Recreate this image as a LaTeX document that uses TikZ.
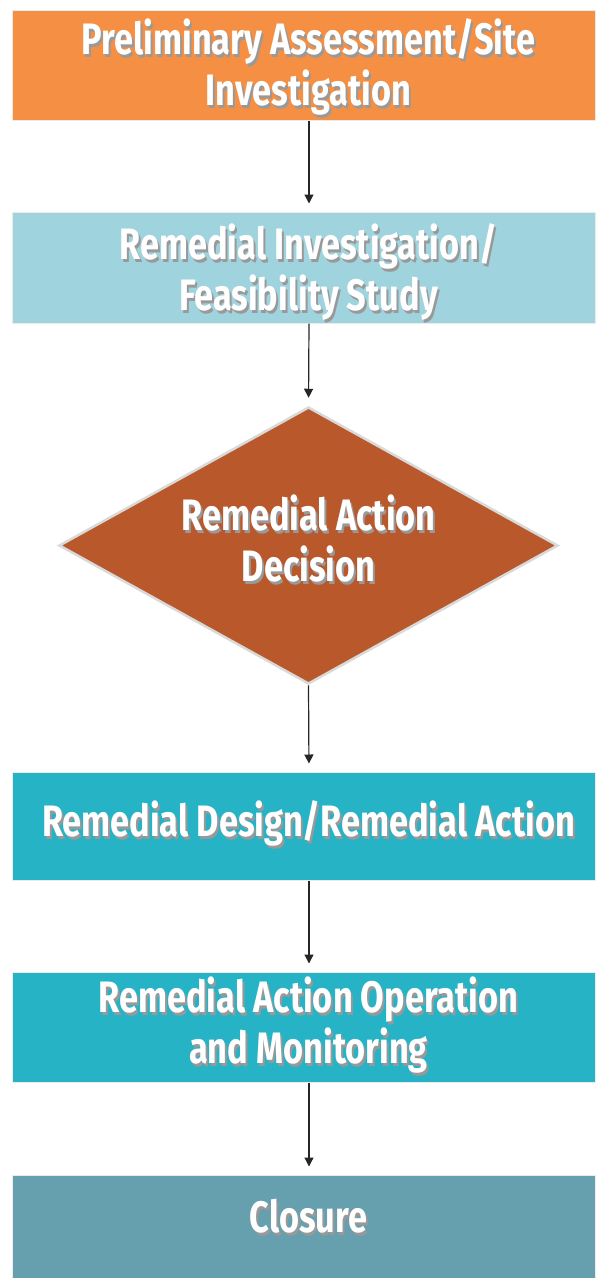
\documentclass[tikz,border=0pt]{standalone}
\usepackage{fontspec}
\setmainfont{Fira Sans}[UprightFont=* SemiBold, BoldFont=* Bold, FakeStretch=0.78]
\usetikzlibrary{shapes.geometric,arrows.meta}
\definecolor{cOrange}{HTML}{F48F43}
\definecolor{cLight}{HTML}{9FD4DF}
\definecolor{cDiam}{HTML}{B9582A}
\definecolor{cTeal}{HTML}{27B3C6}
\definecolor{cClose}{HTML}{669FAE}
\newcommand\shtxt[1]{\leavevmode\rlap{\hspace{2pt}\raisebox{-3pt}{\color{black!40}\begin{tabular}{@{}c@{}}#1\end{tabular}}}{\color{white}\begin{tabular}{@{}c@{}}#1\end{tabular}}}
\tikzset{
  x=1pt, y=-1pt,
  stagebox/.style={rectangle, draw=black!8, line width=1pt, minimum width=583pt, inner sep=0pt},
  lbl/.style={align=center, font=\fontsize{44}{50}\selectfont\bfseries, inner sep=0pt},
  flow/.style={draw=black!85, line width=1.2pt, -{Triangle[width=9pt,length=9pt]}, shorten >=8pt},
}
\begin{document}
\begin{tikzpicture}
\useasboundingbox (0,0) rectangle (595,1278);
\fill[white] (0,0) rectangle (595,1278);
% boxes
\node[stagebox, fill=cOrange, minimum height=110pt] (b1) at (303.5,65) {};
\node[stagebox, fill=cLight, minimum height=111pt] (b2) at (303.5,267.5) {};
\node[diamond, fill=cDiam, draw=black!15, line width=2.5pt, minimum width=499pt, minimum height=277pt, inner sep=0pt] (d) at (308.5,545.5) {};
\node[stagebox, fill=cTeal, minimum height=108pt] (b4) at (303.5,826) {};
\node[stagebox, fill=cTeal, minimum height=110pt] (b5) at (303.5,1027) {};
\node[stagebox, fill=cClose, minimum height=110pt] (b6) at (303.5,1230) {};
% labels
\node[lbl] (t1) at (308.5,71) {\shtxt{Preliminary Assessment/Site\\Investigation}};
\node[lbl] (t2) at (308.5,276) {\shtxt{Remedial Investigation/\\Feasibility Study}};
\node[lbl] (t3) at (308.5,547) {\shtxt{Remedial Action\\Decision}};
\node[lbl] (t4) at (308.5,828) {\shtxt{Remedial Design/Remedial Action}};
\node[lbl] (t5) at (308.5,1029) {\shtxt{Remedial Action Operation\\and Monitoring}};
\node[lbl] (t6) at (308.5,1224) {\shtxt{Closure}};
% connectors
\coordinate (ax) at (309,0);
\draw[flow] (b1.south -| ax) -- (b2.north -| ax);
\draw[flow] (b2.south -| ax) -- (d.north);
\draw[flow] (d.south) -- (b4.north -| ax);
\draw[flow] (b4.south -| ax) -- (b5.north -| ax);
\draw[flow] (b5.south -| ax) -- (b6.north -| ax);
\end{tikzpicture}
\end{document}
